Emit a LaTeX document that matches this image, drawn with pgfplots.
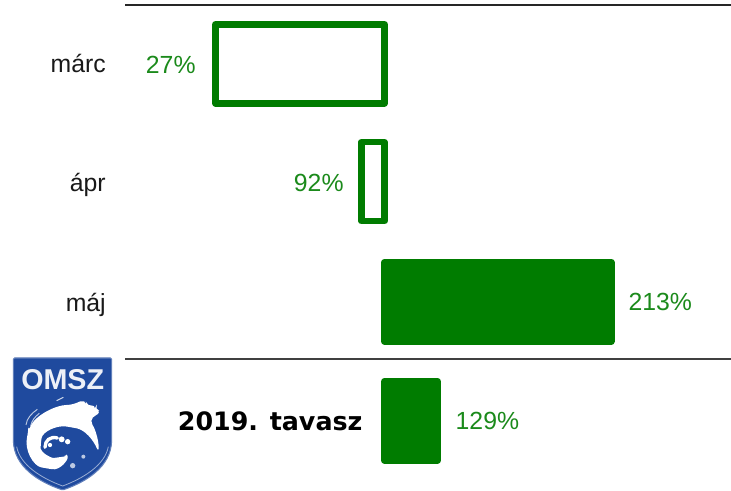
\documentclass[border=0pt]{standalone}
\usepackage{fontspec}
\usepackage{pgfplots}
\pgfplotsset{compat=1.18}
\setmainfont{Liberation Sans}
\newfontfamily\boldlabel{DejaVu Sans}
\definecolor{barg}{HTML}{007C00}
\definecolor{txtg}{HTML}{1B8A1B}
\definecolor{omsz}{HTML}{1F4A9E}
\begin{document}
\begin{tikzpicture}
% picture is 731x491 px, 1 px = .75pt
\path[use as bounding box] (0,0) rectangle (548.25pt,368.25pt);
\begin{axis}[
    at={(93.75pt,0pt)}, anchor=south west,
    scale only axis,
    width=454.5pt, height=364.5pt,
    xmin=-129.75, xmax=173.25,
    ymin=-0.4937, ymax=3.59,
    y dir=reverse,
    axis line style={draw=none},
    xtick=\empty,
    ytick={0,1,2.01},
    yticklabels={márc,ápr,máj},
    major tick length=0pt,
    yticklabel style={font=\fontsize{18.6pt}{20pt}\selectfont, text=black!90, inner sep=0pt, anchor=base east, xshift=-14.25pt, yshift=-6.2pt},
    extra y ticks={3},
    extra y tick labels={2019. tavasz},
    extra y tick style={yticklabel style={font=\fontsize{19pt}{20pt}\boldlabel\bfseries, text=black, inner sep=0pt, anchor=east, xshift=192.5pt, yshift=6.2pt}},
    xbar, bar shift=0pt, bar width=59.25pt,
    clip=false,
    nodes near coords,
    point meta=explicit symbolic,
    nodes near coords style={font=\fontsize{18.6pt}{20pt}\selectfont, text=txtg},
]
% bar lengths as measured in the picture, 0 = the 100% line
\addplot[draw=barg, fill=white, line width=4.9pt, line join=round,
    nodes near coords style={anchor=east, inner xsep=12.5pt, yshift=-.7pt}]
    coordinates {(-84.5,0)[27\%]};
\addplot[draw=barg, fill=white, line width=4.9pt, line join=round,
    nodes near coords style={anchor=east, inner xsep=11pt, yshift=-1.2pt}]
    coordinates {(-11.5,0.99)[92\%]};
\addplot[draw=barg, fill=barg, line width=5.25pt, line join=round,
    nodes near coords style={anchor=west, inner xsep=10.5pt}]
    coordinates {(113.25,2)[213\%]};
\addplot[draw=barg, fill=barg, line width=5.25pt, line join=round,
    nodes near coords style={anchor=west, inner xsep=11pt}]
    coordinates {(26.5,3)[129\%]};
\draw[black!85, line width=1.5pt] (rel axis cs:0,1) -- (rel axis cs:1,1);
\draw[black!75, line width=1.5pt] (axis cs:-129.75,2.483) -- (axis cs:173.25,2.483);
\end{axis}
% OMSZ logo, coordinates are zoom px of the lower left corner
\begin{scope}[x=.25pt, y=-.25pt, shift={(0pt,105.75pt)}]
\path[fill=omsz, draw=omsz!70!white, line width=.8pt, rounded corners=1pt]
  (40,24) -- (335,24) -- (335,270) .. controls (332,350) and (260,395) .. (188,420)
  .. controls (115,395) and (43,350) .. (40,270) -- cycle;
\draw[white, opacity=.55, line width=.6pt]
  (50,290) .. controls (60,345) and (125,385) .. (188,408)
  .. controls (250,385) and (315,345) .. (325,290);
\node[text=white!92!omsz, font=\fontsize{21.5pt}{22pt}\selectfont\bfseries, inner sep=0pt] at (188,90) {OMSZ};
% swirl
\path[fill=white, rounded corners=4pt]
  (85,245) .. controls (105,195) and (170,165) .. (215,165)
  -- (255,148) -- (262,170) -- (290,165) -- (283,178) -- (305,185) -- (280,200) -- (268,212)
  .. controls (285,235) and (296,270) .. (296,308)
  .. controls (280,270) and (255,240) .. (215,232)
  .. controls (170,225) and (128,245) .. (122,280)
  .. controls (122,305) and (150,325) .. (178,322)
  .. controls (190,320) and (198,312) .. (200,305)
  .. controls (205,330) and (180,362) .. (140,355)
  .. controls (100,348) and (72,300) .. (85,245) -- cycle;
\draw[white, line width=2.5pt, line cap=round] (135,292) .. controls (135,272) and (150,258) .. (172,264);
\fill[white] (150,285) circle (1.6pt);
\fill[white] (203,275) circle (2pt);
\fill[white] (185,268) circle (2.2pt);
\fill[white, opacity=.7] (218,347) circle (2pt);
\fill[white, opacity=.7] (250,320) circle (1.5pt);
\draw[white, opacity=.8, line width=.8pt] (170,152) -- (190,142);
\draw[white, opacity=.7, line width=.7pt] (78,225) .. controls (80,205) and (95,190) .. (112,178);
\draw[white, opacity=.7, line width=.7pt] (92,228) .. controls (95,212) and (105,200) .. (118,190);
\end{scope}
\end{tikzpicture}
\end{document}
